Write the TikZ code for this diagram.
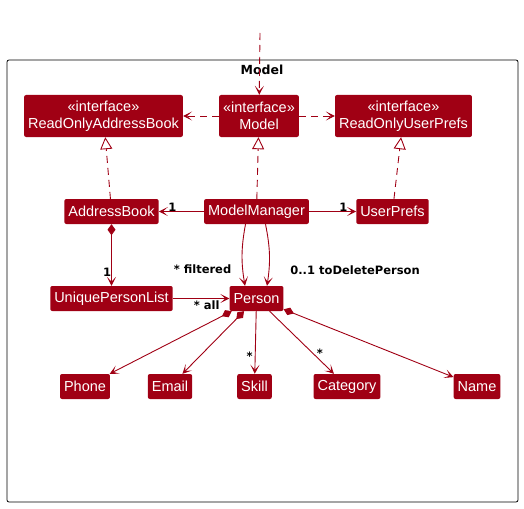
\documentclass[tikz,border=0pt]{standalone}
\usepackage{fontspec}
\setmainfont{Liberation Sans}
\newfontfamily\lblfont{DejaVu Sans}
\usetikzlibrary{arrows.meta}
\definecolor{pumlred}{RGB}{160,0,20}
\tikzset{
  cls/.style={fill=pumlred, text=white, rounded corners=2pt, inner xsep=4pt, inner ysep=0pt,
    minimum height=25pt, font=\fontsize{14.5}{17}\selectfont},
  iface/.style={cls, minimum height=42pt, align=center},
  dep/.style={pumlred, line width=0.9pt, dash pattern=on 7pt off 5pt, -{Stealth[length=9pt,width=9pt,inset=5pt]}},
  real/.style={pumlred, line width=0.9pt, dash pattern=on 7pt off 5pt, -{Triangle[open,length=12pt,width=12pt,fill=white]}},
  assoc/.style={pumlred, line width=0.9pt, -{Stealth[length=9pt,width=9pt,inset=5pt]}},
  comp/.style={pumlred, line width=0.9pt, {Diamond[length=11pt,width=8pt]}-{Stealth[length=9pt,width=9pt,inset=5pt]}},
  lbl/.style={text=black, inner sep=1pt, font=\lblfont\bfseries\fontsize{11.5}{13}\selectfont}
}
\begin{document}
\begin{tikzpicture}[x=1pt, y=-1pt]
  \useasboundingbox (0,0) rectangle (524,508);

  % Package
  \draw[line width=0.8pt, rounded corners=2pt] (7,60) rectangle (518,502);
  \node[lbl, font=\lblfont\bfseries\fontsize{12.5}{14}\selectfont] (title) at (262,70) {Model};

  % Interfaces
  \node[iface] (roab) at (103.5,116) {«interface»\\ReadOnlyAddressBook};
  \node[iface] (model) at (259,116) {«interface»\\Model};
  \node[iface] (roup) at (403.5,116) {«interface»\\ReadOnlyUserPrefs};

  % Classes
  \node[cls] (addressbook) at (111.5,211.5) {AddressBook};
  \node[cls] (manager) at (256.5,211.5) {ModelManager};
  \node[cls] (userprefs) at (392.5,211.5) {UserPrefs};
  \node[cls] (upl) at (111.5,298.5) {UniquePersonList};
  \node[cls] (person) at (256.5,298.5) {Person};

  % Attributes of Person
  \node[cls] (phone) at (85,386.5) {Phone};
  \node[cls] (email) at (170,386.5) {Email};
  \node[cls] (skill) at (254.5,386.5) {Skill};
  \node[cls] (category) at (347,386.5) {Category};
  \node[cls] (name) at (477,386.5) {Name};

  % Dependencies
  \coordinate (entry) at (260,33);
  \draw[dep] (entry) -- (model);
  \draw[dep] (model) -- (roab);
  \draw[dep] (model) -- (roup);

  % Realizations
  \draw[real] (addressbook) -- (roab);
  \draw[real] (manager) -- (model);
  \draw[real] (userprefs) -- (roup);

  % Associations
  \draw[assoc] (manager) -- (addressbook) node[lbl, pos=0.7, above=-1pt] {1};
  \draw[assoc] (manager) -- (userprefs) node[lbl, pos=0.73, above=-1pt] {1};
  \draw[comp] (addressbook) -- (upl) node[lbl, pos=0.78, left=-1pt] {1};
  \draw[assoc] (upl) -- (person) node[lbl, pos=0.6, below=1pt] {* all};
  \draw[assoc] ([xshift=-11pt]manager.south) to[bend right=10]
    node[lbl, pos=0.74, left=10pt] {* filtered} ([xshift=-11.5pt]person.north);
  \draw[assoc] ([xshift=9pt]manager.south) to[bend left=10]
    node[lbl, pos=0.76, right=20pt] {0..1 toDeletePerson} ([xshift=10.5pt]person.north);

  % Compositions
  \draw[comp] (person) -- (phone);
  \draw[comp] (person) -- (email);
  \draw[assoc] (person) -- (skill) node[lbl, pos=0.72, left=1pt] {*};
  \draw[assoc] (person) -- (category) node[lbl, pos=0.78, above=1pt] {*};
  \draw[comp] (person) -- (name);
\end{tikzpicture}
\end{document}
